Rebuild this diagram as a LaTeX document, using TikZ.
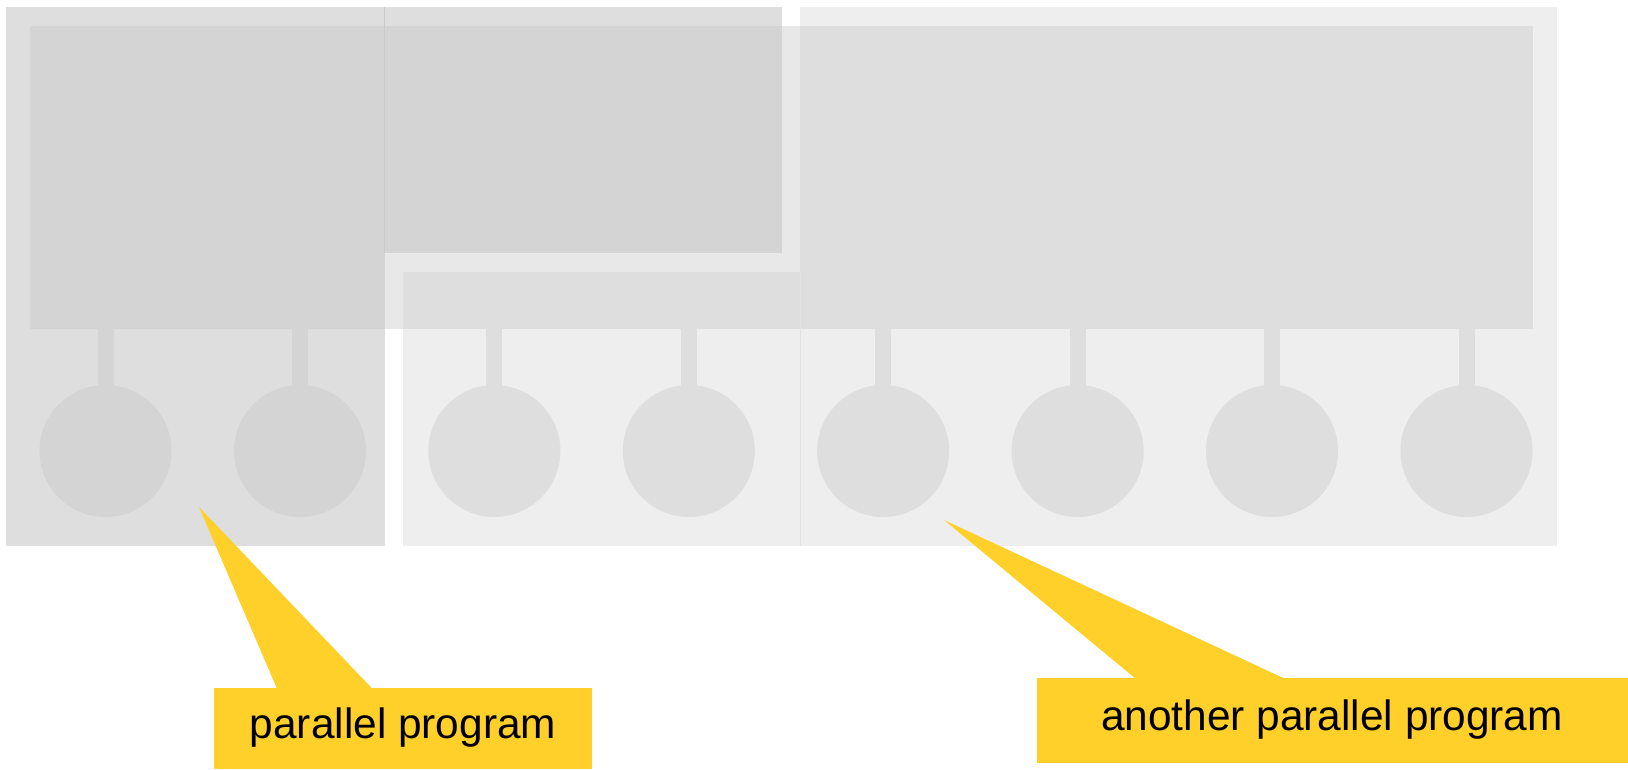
\documentclass[tikz,border=0pt]{standalone}
\usepackage{fontspec}
\setmainfont{Liberation Sans}
\definecolor{progA}{HTML}{DEDEDE}
\definecolor{progAmem}{HTML}{D4D4D4}
\definecolor{progB}{HTML}{EEEEEE}
\definecolor{progBmem}{HTML}{DEDEDE}
\definecolor{memfree}{HTML}{E8E8E8}
\definecolor{seamA}{HTML}{C9C9C9}
\definecolor{seamB}{HTML}{E2E2E2}
\definecolor{calloutyellow}{RGB}{255,208,41}
\begin{document}
\begin{tikzpicture}[x=1pt,y=-1pt,
  area/.style={fill=#1, draw=none, inner sep=0pt, anchor=north west},
  cpu/.style={circle, minimum size=132pt, inner sep=0pt, fill=#1, draw=none},
  link/.style={draw=#1, line width=16pt},
  seam/.style={draw=#1, line width=1.2pt},
  callout/.style={fill=calloutyellow, draw=none},
  tag/.style={font=\fontsize{42.4}{50}\selectfont, text=black, anchor=base, inner sep=0pt}]
\useasboundingbox (0,0) rectangle (1628,769);

% program regions
\fill[progA] (6,7) rectangle (385,546);
\fill[progA] (385,7) rectangle (782,253);
\fill[progB] (800,7) rectangle (1557,546);
\fill[progB] (403,272) rectangle (800,546);

% shared memory bar
\node[area=memfree, minimum width=1503pt, minimum height=303pt] (mem) at (30,26) {};
% memory parts owned by each program
\fill[progAmem] (30,26) rectangle (385,329);
\fill[progAmem] (385,26) rectangle (782,253);
\fill[progBmem] (403,272) rectangle (800,329);
\fill[progBmem] (800,26) rectangle (1533,329);

% seams between adjacent program regions
\draw[seam=seamA] (384.5,7) -- (384.5,253);
\draw[seam=seamB] (800.3,272) -- (800.3,546);

% processors and their links to memory
\foreach \i/\x/\c in {1/105.5/progAmem, 2/300/progAmem,
                      3/494.4/progBmem, 4/688.8/progBmem,
                      5/883.2/progBmem, 6/1077.6/progBmem,
                      7/1272/progBmem, 8/1466.5/progBmem} {
  \coordinate (p\i) at (\x,451);
  \draw[link=\c] (p\i) -- (p\i |- mem.south);
  \node[cpu=\c] (n\i) at (p\i) {};
}

% callouts
\coordinate (tipA) at (199,507);
\coordinate (tipB) at (944,520);
\fill[callout] (214,687.5) rectangle (592,769);
\fill[callout] (tipA) -- (276.7,688) -- (371.7,688) -- cycle;
\node[tag] (labA) at (403,738) {parallel program};

\fill[callout] (1036.5,678) rectangle (1628,763);
\fill[callout] (tipB) -- (1135.4,678.5) -- (1284.4,678.5) -- cycle;
\node[tag] (labB) at (1332,730) {another parallel program};
\end{tikzpicture}
\end{document}
